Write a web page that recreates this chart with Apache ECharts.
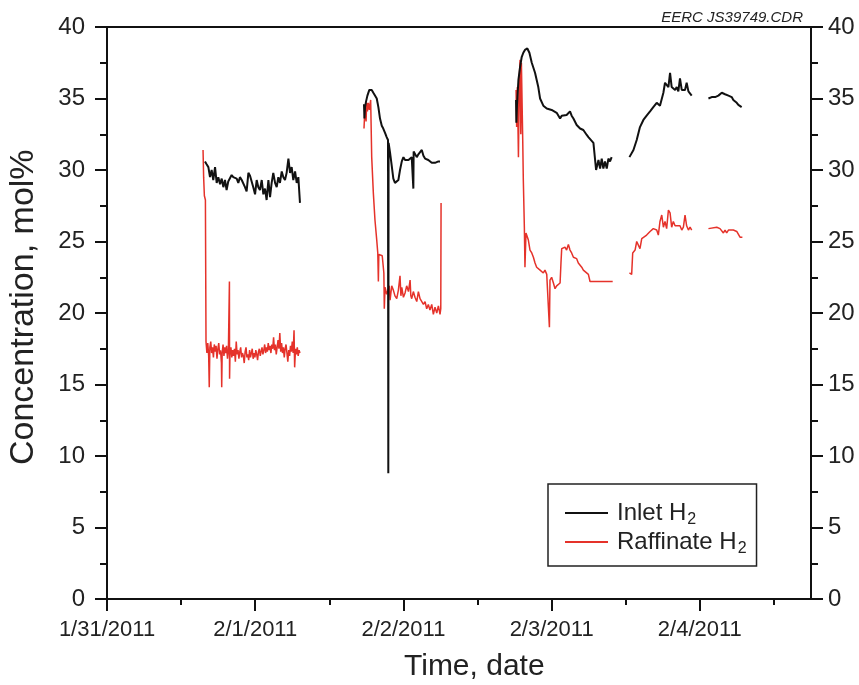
<!DOCTYPE html>
<html>
<head>
<meta charset="utf-8">
<script src="https://cdn.jsdelivr.net/npm/echarts@6/dist/echarts.min.js"></script>
<style>
html,body{margin:0;padding:0;background:#fff;}
#chart{width:859px;height:685px;}
</style>
</head>
<body>
<div id="chart"></div>
<script>
// x values: days since 1/31/2011 00:00 ; y values: mol%
const xTickLabels = ['1/31/2011', '2/1/2011', '2/2/2011', '2/3/2011', '2/4/2011'];
const xMajorTicks = [0, 1, 2, 3, 4];
const xMinorTicks = [0.5, 1.5, 2.5, 3.5, 4.5];

const inletSeg1 = [
[0.661,30.6],[0.672,30.4],[0.684,30.2],[0.695,29.5],[0.706,30.0],[0.717,29.3],[0.729,30.2],[0.740,29.1],
[0.751,29.5],[0.763,29.0],[0.774,29.4],[0.785,28.8],[0.796,29.3],[0.807,28.6],[0.818,29.2],[0.830,29.3],
[0.841,29.65],[0.852,29.5],[0.864,29.5],[0.875,29.4],[0.886,29.1],[0.897,29.5],[0.909,29.3],[0.920,29.3],
[0.931,28.8],[0.942,28.5],[0.954,29.8],[0.965,29.6],[0.976,29.5],[0.987,28.8],[0.999,28.3],[1.010,29.3],
[1.021,28.8],[1.032,28.6],[1.044,29.3],[1.055,28.3],[1.066,28.7],[1.077,27.9],[1.089,29.3],[1.100,28.1],
[1.111,29.1],[1.122,29.8],[1.134,29.1],[1.145,28.8],[1.156,29.5],[1.167,29.1],[1.179,29.9],[1.190,29.5],
[1.201,29.3],[1.212,29.8],[1.224,30.8],[1.235,29.8],[1.246,30.2],[1.257,29.3],[1.269,29.9],[1.280,29.1],
[1.291,29.5],[1.302,27.7]
];
const inletSeg2 = [
[1.734,34.6],[1.737,33.6],[1.741,34.4],[1.748,34.8],[1.757,35.2],[1.770,35.6],[1.779,35.5],[1.786,35.6],
[1.797,35.4],[1.808,35.5],[1.820,35.0],[1.831,34.4],[1.842,33.6],[1.854,33.1],[1.864,32.9],[1.876,32.6],
[1.887,32.3],[1.896,32.1],[1.898,8.8],[1.900,31.9],[1.910,31.2],[1.921,30.3],[1.932,29.4],[1.943,29.1],
[1.955,29.1],[1.966,29.3],[1.977,30.0],[1.989,30.6],[2.000,30.9],[2.011,30.7],[2.022,30.8],[2.034,30.7],
[2.045,30.8],[2.056,30.9],[2.065,30.9],[2.067,28.7],[2.069,31.3],[2.078,31.2],[2.090,30.9],[2.101,31.1],
[2.112,31.0],[2.124,31.4],[2.135,31.0],[2.146,30.8],[2.157,30.9],[2.168,30.7],[2.179,30.6],[2.191,30.5],
[2.202,30.6],[2.213,30.5],[2.225,30.6],[2.236,30.6],[2.247,30.6]
];
const inletSeg3 = [
[2.760,34.9],[2.762,33.3],[2.766,34.5],[2.776,36.3],[2.787,37.2],[2.798,37.9],[2.809,38.2],[2.820,38.4],
[2.836,38.5],[2.850,38.2],[2.866,37.5],[2.888,36.8],[2.910,35.8],[2.922,35.0],[2.944,34.5],[2.967,34.3],
[3.000,34.2],[3.034,34.0],[3.057,33.6],[3.068,33.8],[3.079,33.7],[3.101,33.85],[3.124,34.1],[3.135,33.8],
[3.147,33.6],[3.169,33.15],[3.192,32.9],[3.214,32.8],[3.237,32.45],[3.248,32.3],[3.259,32.2],[3.282,31.9],
[3.293,31.85],[3.300,30.0],[3.316,30.7],[3.327,30.1],[3.338,30.8],[3.349,30.1],[3.360,30.6],[3.372,30.1],
[3.383,30.8],[3.394,30.6],[3.405,30.9]
];
const inletSeg4 = [
[3.525,30.9],[3.552,31.4],[3.574,32.1],[3.596,33.0],[3.619,33.5],[3.641,33.8],[3.664,34.1],[3.686,34.4],
[3.709,34.7],[3.731,34.5],[3.743,34.4],[3.754,35.4],[3.765,36.1],[3.788,35.8],[3.799,36.8],[3.810,35.8],
[3.833,35.6],[3.844,35.8],[3.855,35.5],[3.866,36.4],[3.878,35.6],[3.889,35.7],[3.900,35.6],[3.911,36.1],
[3.923,35.5],[3.934,35.4],[3.945,35.2]
];
const inletSeg5 = [
[4.058,35.0],[4.080,35.1],[4.103,35.1],[4.125,35.2],[4.148,35.4],[4.170,35.3],[4.193,35.2],[4.215,35.1],
[4.226,34.9],[4.249,34.7],[4.260,34.55],[4.282,34.4]
];

const raffSeg1 = [
[0.648,31.4],[0.652,29.5],[0.657,28.2],[0.664,27.9],[0.668,18.0],[0.674,17.2],[0.680,17.9],[0.686,17.0],
[0.690,14.8],[0.694,17.6],[0.700,18.0],[0.706,17.2],[0.712,17.6],[0.718,16.9],[0.724,17.8],[0.730,17.3],
[0.736,17.7],[0.742,16.8],[0.748,17.5],[0.754,17.9],[0.760,17.1],[0.766,17.4],[0.772,16.5],[0.774,14.8],
[0.777,17.2],[0.783,17.8],[0.789,17.0],[0.795,17.6],[0.801,17.2],[0.807,17.7],[0.813,16.8],[0.819,17.4],
[0.826,22.2],[0.827,15.4],[0.830,17.3],[0.836,17.6],[0.842,16.9],[0.848,17.4],[0.854,17.0],[0.860,17.5],
[0.866,16.6],[0.872,18.0],[0.878,17.1],[0.884,17.4],[0.890,16.8],[0.896,17.3],[0.902,17.6],[0.908,16.9],
[0.914,17.2],[0.920,17.0],[0.926,16.5],[0.932,17.3],[0.938,17.6],[0.944,16.9],[0.950,17.1],[0.956,16.7],
[0.962,17.4],[0.968,16.9],[0.974,17.2],[0.980,17.5],[0.986,16.8],[0.992,17.2],[0.998,16.9],[1.004,17.4],
[1.010,17.1],[1.016,16.7],[1.022,17.3],[1.028,17.5],[1.034,17.0],[1.040,17.3],[1.046,17.6],[1.052,17.1],
[1.058,17.4],[1.064,17.8],[1.070,17.2],[1.076,17.6],[1.082,17.3],[1.088,17.9],[1.094,17.4],[1.100,17.7],
[1.106,17.2],[1.112,17.8],[1.118,17.5],[1.124,18.3],[1.130,17.4],[1.136,17.8],[1.142,17.1],[1.148,17.6],
[1.154,18.1],[1.160,17.5],[1.166,18.6],[1.172,17.3],[1.178,17.9],[1.184,17.2],[1.190,17.6],[1.196,16.9],
[1.202,17.5],[1.208,17.8],[1.214,17.2],[1.220,16.6],[1.226,17.4],[1.232,17.0],[1.238,17.7],[1.244,17.3],
[1.250,18.0],[1.256,17.2],[1.262,18.8],[1.266,16.2],[1.272,17.5],[1.278,17.1],[1.284,17.6],[1.290,17.0],
[1.296,17.4],[1.302,17.2]
];
const raffSeg2 = [
[1.734,32.9],[1.741,34.5],[1.748,33.4],[1.752,34.7],[1.757,34.1],[1.763,34.7],[1.770,34.2],[1.779,34.9],
[1.786,30.9],[1.797,28.4],[1.808,26.5],[1.820,25.1],[1.827,24.2],[1.831,22.2],[1.834,24.1],[1.845,24.1],
[1.857,24.0],[1.864,23.9],[1.868,22.8],[1.871,20.3],[1.876,21.8],[1.887,21.3],[1.898,21.4],[1.904,21.9],
[1.910,20.9],[1.921,21.9],[1.932,21.6],[1.943,21.2],[1.955,21.0],[1.966,21.6],[1.977,22.6],[1.983,21.2],
[1.989,21.8],[2.000,21.1],[2.011,21.4],[2.022,21.9],[2.034,21.5],[2.045,22.3],[2.050,21.2],[2.056,21.0],
[2.067,21.5],[2.078,21.1],[2.090,20.8],[2.101,21.5],[2.112,21.0],[2.124,20.9],[2.135,20.6],[2.146,20.8],
[2.157,20.3],[2.168,20.6],[2.179,20.2],[2.191,20.6],[2.202,19.9],[2.213,20.4],[2.225,20.0],[2.236,20.5],
[2.247,19.9],[2.252,20.3],[2.254,27.7]
];
const raffSeg3 = [
[2.760,35.6],[2.764,33.0],[2.769,35.8],[2.776,30.9],[2.782,36.5],[2.787,37.7],[2.792,32.5],[2.796,37.5],
[2.805,32.1],[2.809,29.3],[2.816,26.0],[2.820,23.2],[2.827,25.6],[2.843,25.1],[2.854,24.4],[2.866,24.2],
[2.877,23.9],[2.888,23.5],[2.899,23.2],[2.910,23.3],[2.922,23.0],[2.933,23.1],[2.944,22.8],[2.955,23.0],
[2.967,22.7],[2.978,22.8],[2.985,19.0],[2.989,22.3],[3.000,22.5],[3.012,22.1],[3.023,21.7],[3.034,21.9],
[3.046,21.8],[3.057,22.1],[3.063,23.5],[3.068,24.5],[3.079,24.5],[3.090,24.6],[3.101,24.4],[3.113,24.8],
[3.124,24.4],[3.135,24.2],[3.147,23.9],[3.169,23.8],[3.180,23.5],[3.203,23.2],[3.214,23.0],[3.225,22.9],
[3.248,22.7],[3.259,22.2],[3.412,22.2]
];
const raffSeg4 = [
[3.525,22.8],[3.540,22.7],[3.547,24.2],[3.563,24.4],[3.574,25.0],[3.596,24.5],[3.608,25.2],[3.619,25.3],
[3.641,25.45],[3.664,25.7],[3.686,25.9],[3.709,25.8],[3.720,25.45],[3.731,26.4],[3.743,26.85],[3.754,26.0],
[3.765,26.4],[3.776,25.9],[3.788,27.2],[3.799,27.0],[3.810,26.0],[3.821,26.4],[3.833,26.1],[3.844,26.2],
[3.866,26.1],[3.878,25.8],[3.889,26.0],[3.900,26.85],[3.911,26.1],[3.923,25.8],[3.934,26.0],[3.945,25.8]
];
const raffSeg5 = [
[4.058,25.9],[4.114,26.0],[4.136,25.9],[4.159,25.6],[4.170,25.8],[4.181,25.6],[4.193,25.8],[4.204,25.7],
[4.226,25.8],[4.249,25.7],[4.260,25.6],[4.271,25.3],[4.287,25.3]
];

function joinSegments(segs) {
  const out = [];
  segs.forEach((s, i) => {
    if (i > 0) out.push([(segs[i-1][segs[i-1].length-1][0] + s[0][0]) / 2, '-']);
    s.forEach(p => out.push(p));
  });
  return out;
}
const inletData = joinSegments([inletSeg1, inletSeg2, inletSeg3, inletSeg4, inletSeg5]);
const raffData = joinSegments([raffSeg1, raffSeg2, raffSeg3, raffSeg4, raffSeg5]);

const FONT = 'Liberation Sans, Arial, sans-serif';
const chart = echarts.init(document.getElementById('chart'));
function yAxisDef(position, margin) {
  return {
    type: 'value', min: 0, max: 40, interval: 5, position: position,
    axisLine: { show: true, onZero: false, lineStyle: { color: '#111', width: 2 } },
    axisTick: { show: true, inside: false, length: 12, lineStyle: { color: '#111', width: 2 } },
    minorTick: { show: true, splitNumber: 2, length: 7, lineStyle: { color: '#111', width: 2 } },
    splitLine: { show: false },
    minorSplitLine: { show: false },
    axisLabel: { margin: margin, fontSize: 24, color: '#222', fontFamily: FONT }
  };
}
chart.setOption({
  animation: false,
  backgroundColor: '#fff',
  title: {
    text: 'EERC JS39749.CDR', right: 51, top: 5,
    textStyle: { fontSize: 15, fontStyle: 'italic', fontWeight: 'normal', color: '#222', fontFamily: FONT }
  },
  grid: { left: 107, right: 48, top: 27, bottom: 86, show: true, borderColor: '#111', borderWidth: 2 },
  xAxis: [
    {
      type: 'value', min: 0, max: 4.75, position: 'bottom',
      axisLine: { show: true, onZero: false, lineStyle: { color: '#111', width: 2 } },
      axisTick: { show: true, length: 12, customValues: xMajorTicks, lineStyle: { color: '#111', width: 2 } },
      axisLabel: { customValues: xMajorTicks, margin: 20, fontSize: 22, color: '#222', fontFamily: FONT,
        formatter: v => xTickLabels[Math.round(v)] || '' },
      splitLine: { show: false }
    },
    {
      type: 'value', min: 0, max: 4.75, position: 'bottom',
      axisLine: { show: false, onZero: false },
      axisTick: { show: true, length: 6, customValues: xMinorTicks, lineStyle: { color: '#111', width: 2 } },
      axisLabel: { show: false },
      splitLine: { show: false }
    }
  ],
  yAxis: [yAxisDef('left', 22), yAxisDef('right', 17)],
  legend: {
    orient: 'vertical', left: 548, top: 484,
    padding: [17, 10, 9, 17], itemGap: 2,
    borderColor: '#222', borderWidth: 1.5,
    itemWidth: 43, itemHeight: 2, icon: 'rect',
    selectedMode: false,
    data: ['Inlet H2', 'Raffinate H2'],
    formatter: name => '{a|' + name.slice(0, -1) + '}{b|2}',
    textStyle: {
      padding: [0, 0, 0, 4],
      rich: {
        a: { fontSize: 24, color: '#222', fontFamily: FONT, lineHeight: 30, verticalAlign: 'middle' },
        b: { fontSize: 16, color: '#222', fontFamily: FONT, lineHeight: 16, verticalAlign: 'bottom', padding: [0, 0, 0, 1] }
      }
    }
  },
  graphic: [
    { type: 'text', left: 404, top: 652, style: { text: 'Time, date', font: '30px ' + FONT, fill: '#222' } },
    { type: 'text', x: 7, y: 465, rotation: Math.PI / 2,
      style: { text: 'Concentration, mol%', font: '34px ' + FONT, fill: '#222' } }
  ],
  series: [
    {
      name: 'Raffinate H2', type: 'line', data: raffData, color: '#e5322a',
      xAxisIndex: 0, yAxisIndex: 0, symbol: 'none', showSymbol: false,
      lineStyle: { width: 1.5, color: '#e5322a' }, connectNulls: false, z: 2
    },
    {
      name: 'Inlet H2', type: 'line', data: inletData, color: '#111',
      xAxisIndex: 0, yAxisIndex: 0, symbol: 'none', showSymbol: false,
      lineStyle: { width: 2, color: '#111' }, connectNulls: false, z: 3
    }
  ]
});
</script>
</body>
</html>
